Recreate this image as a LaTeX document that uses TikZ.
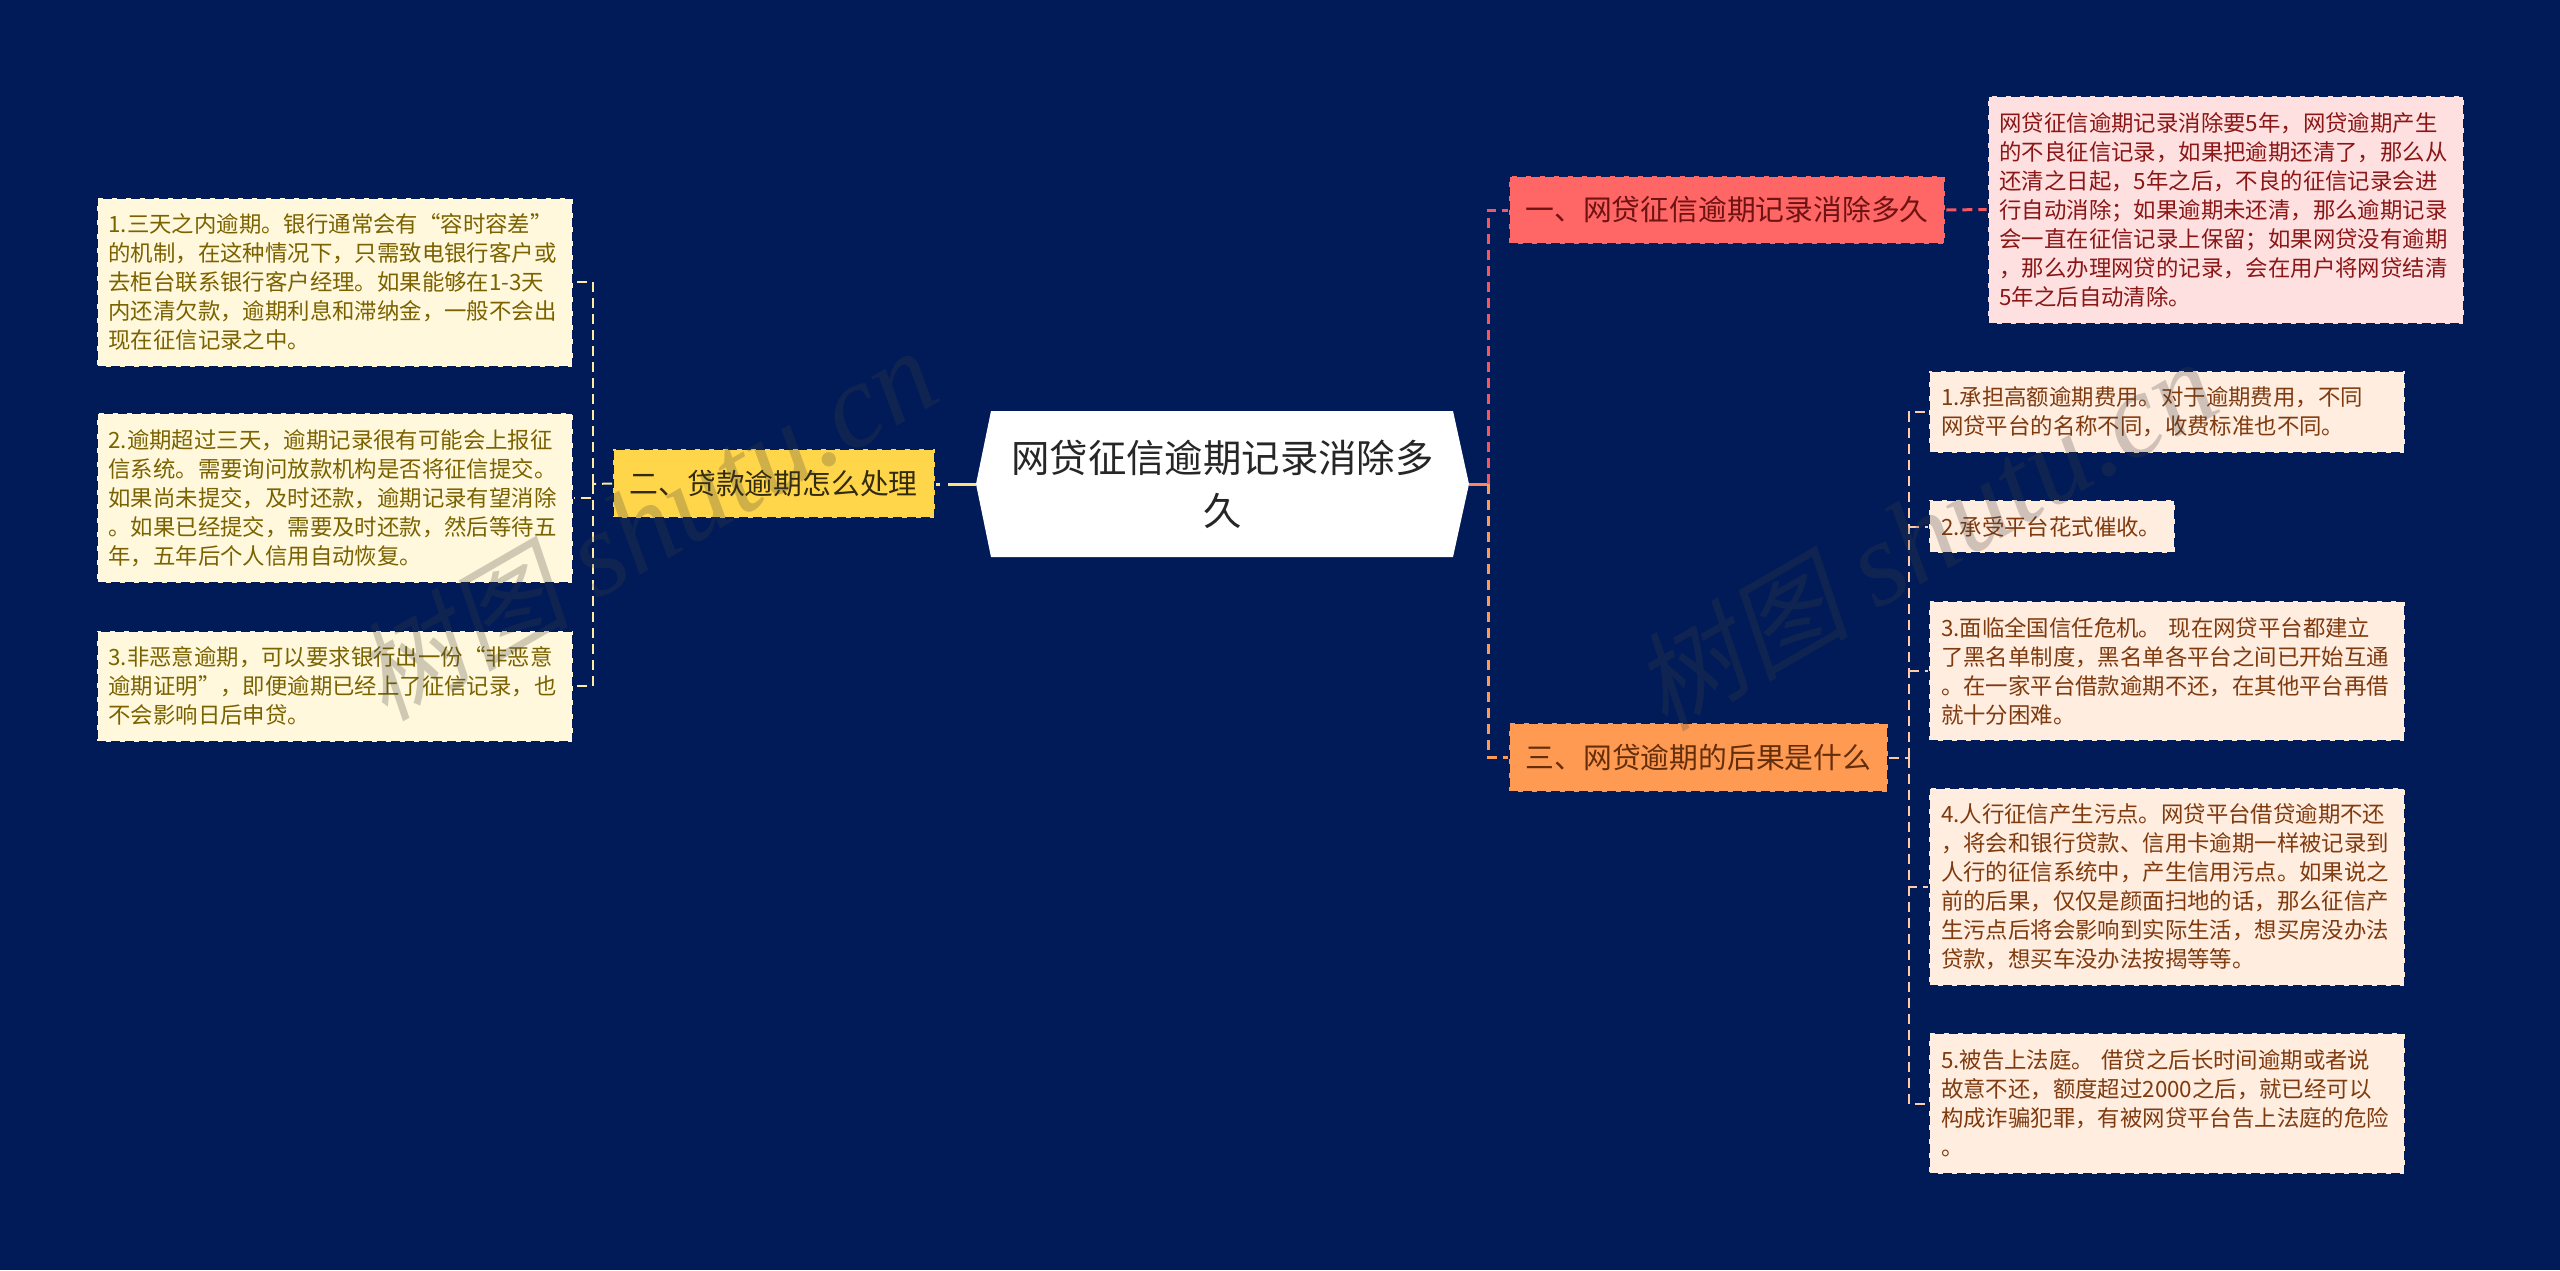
\documentclass[tikz,border=0pt]{standalone}
\usepackage{fontspec}
\setmainfont{Noto Sans CJK SC}
\newfontfamily\wmcjk[FakeSlant=0.2]{Noto Sans CJK SC}
\newfontfamily\wmlat{Liberation Serif}
\definecolor{bgnavy}{HTML}{001B58}
\definecolor{leftfill}{HTML}{FFF8DC}
\definecolor{lefttext}{HTML}{7B6200}
\definecolor{pinkfill}{HTML}{FFE0E0}
\definecolor{pinktext}{HTML}{8A1616}
\definecolor{peachfill}{HTML}{FFEDE0}
\definecolor{peachtext}{HTML}{7F3A0E}
\definecolor{redfill}{HTML}{FF6666}
\definecolor{orangefill}{HTML}{FF9A52}
\definecolor{yellowfill}{HTML}{FFD54A}
\tikzset{
  x=0.5pt, y=-0.5pt,
  edged/.style={draw=bgnavy, line width=1pt, dash pattern=on 4.5pt off 2.5pt},
  leafbox/.style={edged, align=left, inner xsep=6pt, inner ysep=0pt, text width=226pt,
    minimum width=238pt, font=\fontsize{11.2}{14.5}\selectfont},
  leftleaf/.style={leafbox, fill=leftfill, text=lefttext},
  pinkleaf/.style={leafbox, fill=pinkfill, text=pinktext},
  peachleaf/.style={leafbox, fill=peachfill, text=peachtext},
  topic/.style={edged, align=center, inner sep=0pt, font=\fontsize{14.4}{18}\selectfont},
  hubtext/.style={align=center, inner sep=0pt, text=black!85, minimum width=246.5pt, minimum height=73pt,
    font=\fontsize{19.2}{26.5}\selectfont},
  mainlink/.style={line width=1.5pt, dash pattern=on 5pt off 3pt},
  leaflink/.style={line width=1pt, dash pattern=on 5pt off 3pt},
  watermark/.style={rotate=30, text=black!75, text opacity=0.25, inner sep=0pt}
}
\begin{document}
\begin{tikzpicture}
\useasboundingbox (0,0) rectangle (2560,1270);
\fill[bgnavy] (0,0) rectangle (2560,1270);
% central hexagon body
\fill[white] (976,484) -- (991,411) -- (1453,411) -- (1469,484) -- (1453,557) -- (991,557) -- cycle;
\node[hubtext] (hub) at (1222.5,484) {网贷征信逾期记录消除多\\久};
% topics
\node[topic, fill=yellowfill, text=black!80!yellowfill, minimum width=160.75pt, minimum height=34.5pt] (yellow) at (773.75,483.5) {二、贷款逾期怎么处理};
\node[topic, fill=redfill, text=pinktext!80!black, minimum width=218.25pt, minimum height=34pt] (red) at (1727,210) {一、网贷征信逾期记录消除多久};
\node[topic, fill=orangefill, text=peachtext!80!black, minimum width=189.5pt, minimum height=34.5pt] (orange) at (1698.5,757.5) {三、网贷逾期的后果是什么};
% left leaves
\node[leftleaf, minimum height=84.5pt] (la) at (334.5,282) {1.三天之内逾期。银行通常会有“容时容差”\\的机制，在这种情况下，只需致电银行客户或\\去柜台联系银行客户经理。如果能够在1-3天\\内还清欠款，逾期利息和滞纳金，一般不会出\\现在征信记录之中。};
\node[leftleaf, minimum height=85pt] (lb) at (334.5,498) {2.逾期超过三天，逾期记录很有可能会上报征\\信系统。需要询问放款机构是否将征信提交。\\如果尚未提交，及时还款，逾期记录有望消除\\。如果已经提交，需要及时还款，然后等待五\\年，五年后个人信用自动恢复。};
\node[leftleaf, minimum height=55.5pt] (lc) at (334.5,686) {3.非恶意逾期，可以要求银行出一份“非恶意\\逾期证明”，即便逾期已经上了征信记录，也\\不会影响日后申贷。};
% pink leaf
\node[pinkleaf, minimum height=114pt] (pink) at (2225.5,209.5) {网贷征信逾期记录消除要5年，网贷逾期产生\\的不良征信记录，如果把逾期还清了，那么从\\还清之日起，5年之后，不良的征信记录会进\\行自动消除；如果逾期未还清，那么逾期记录\\会一直在征信记录上保留；如果网贷没有逾期\\，那么办理网贷的记录，会在用户将网贷结清\\5年之后自动清除。};
% right leaves
\node[peachleaf, minimum height=41pt] (ra) at (2167,412) {1.承担高额逾期费用。对于逾期费用，不同\\网贷平台的名称不同，收费标准也不同。};
\node[peachleaf, text width=111pt, minimum width=123pt, minimum height=26.5pt] (rb) at (2052,526.5) {2.承受平台花式催收。};
\node[peachleaf, minimum height=70pt] (rc) at (2167,671) {3.面临全国信任危机。 现在网贷平台都建立\\了黑名单制度，黑名单各平台之间已开始互通\\。在一家平台借款逾期不还，在其他平台再借\\就十分困难。};
\node[peachleaf, minimum height=99pt] (rd) at (2167,887) {4.人行征信产生污点。网贷平台借贷逾期不还\\，将会和银行贷款、信用卡逾期一样被记录到\\人行的征信系统中，产生信用污点。如果说之\\前的后果，仅仅是颜面扫地的话，那么征信产\\生污点后将会影响到实际生活，想买房没办法\\贷款，想买车没办法按揭等等。};
\node[peachleaf, minimum height=70.5pt] (re) at (2167,1103.5) {5.被告上法庭。 借贷之后长时间逾期或者说\\故意不还，额度超过2000之后，就已经可以\\构成诈骗犯罪，有被网贷平台告上法庭的危险\\。};
% trunk positions
\coordinate (ltrunk) at (593,484);
\coordinate (mtrunk) at (1488,484);
\coordinate (rtrunk) at (1908.5,757.5);
% connectors
\draw[line width=1.5pt, color=yellowfill!70!white, dash pattern=on 14pt off 4pt] (hub.west) -- (yellow.east |- hub.west);
\draw[leaflink, color=yellowfill!50!white] (yellow.west) -- (ltrunk);
\draw[leaflink, color=yellowfill!50!white] (ltrunk) |- (la.east);
\draw[leaflink, color=yellowfill!50!white] (ltrunk) |- (lb.east);
\draw[leaflink, color=yellowfill!50!white] (ltrunk) |- (lc.east);
\draw[line width=1.5pt, color=orangefill!60!redfill] (hub.east) -- (mtrunk);
\draw[mainlink, color=redfill!85!purple] (mtrunk) |- (red.west);
\draw[mainlink, color=orangefill] (mtrunk) |- (orange.west);
\draw[mainlink, color=redfill!85!purple] (red.east) -- (pink.west);
\draw[leaflink, color=orangefill!55!white] (orange.east) -- (rtrunk);
\draw[leaflink, color=orangefill!50!white] (rtrunk) |- (ra.west);
\draw[leaflink, color=orangefill!50!white] (rtrunk |- rb.west) -- (rb.west);
\draw[leaflink, color=orangefill!50!white] (rtrunk |- rc.west) -- (rc.west);
\draw[leaflink, color=orangefill!50!white] (rtrunk) |- (rd.west);
\draw[leaflink, color=orangefill!50!white] (rtrunk) |- (re.west);
% watermarks
\node[watermark, font={\fontsize{60}{60}\selectfont}] (wma) at (645,525) {{\wmcjk\fontsize{54}{60}\selectfont 树图} {\wmlat\itshape shutu.cn}};
\node[watermark, font={\fontsize{60}{60}\selectfont}] (wmb) at (1925,535) {{\wmcjk\fontsize{54}{60}\selectfont 树图} {\wmlat\itshape shutu.cn}};
\end{tikzpicture}
\end{document}
